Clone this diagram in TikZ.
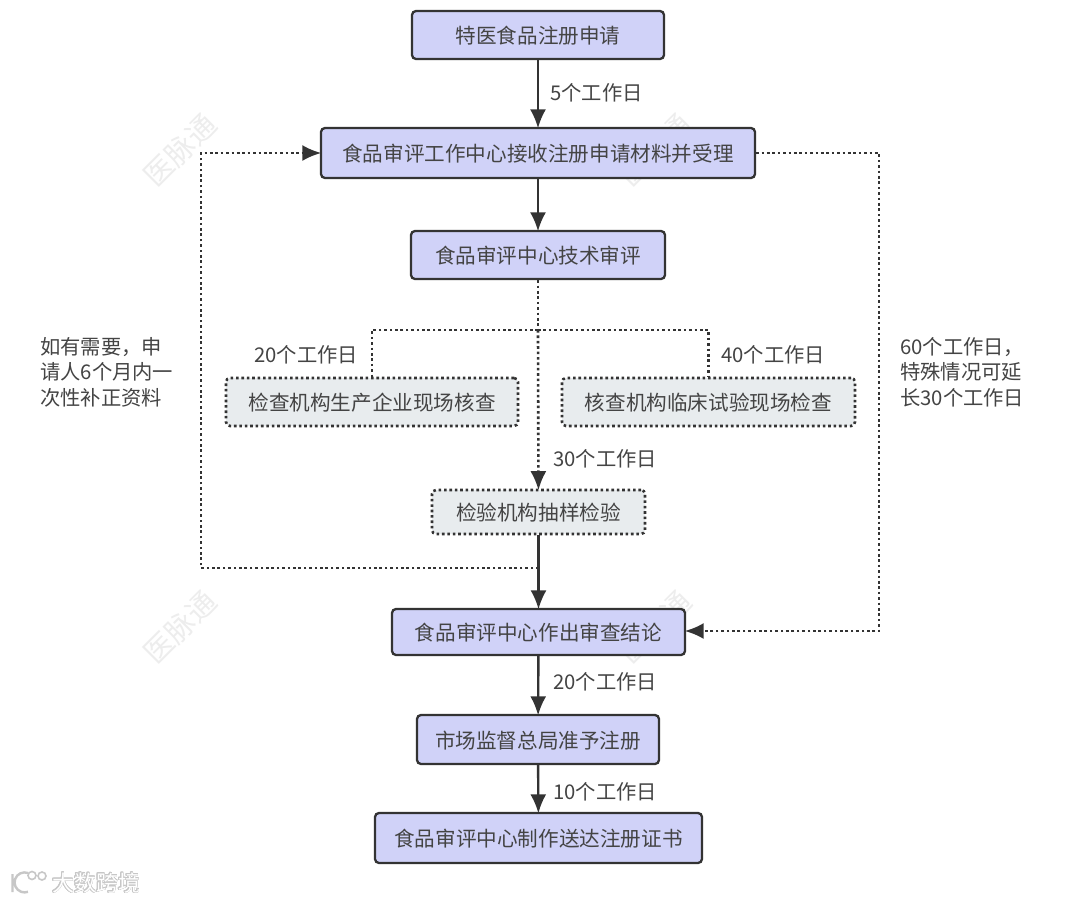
\documentclass[tikz,border=0pt]{standalone}
\usepackage{fontspec}
\setmainfont{Noto Sans CJK SC}
\usepackage{contour}
\usetikzlibrary{arrows.meta}
\contourlength{0.7pt}
\definecolor{boxfill}{HTML}{D0D2F8}
\definecolor{greyfill}{HTML}{E8ECEE}
\definecolor{ink}{HTML}{333333}
\definecolor{txt}{HTML}{444444}
\definecolor{wm}{HTML}{EDEDED}
\tikzset{
  base/.style={rectangle,rounded corners=4pt,inner sep=0pt,text=txt,font=\fontsize{20.6pt}{24pt}\selectfont,line width=2.3pt,draw=ink,text height=17.6pt,text depth=0pt},
  mainbox/.style={base,fill=boxfill},
  checkbox/.style={base,fill=greyfill,line width=2.6pt,dash pattern=on 2.6pt off 2.8pt},
  solidlink/.style={draw=ink,line width=2.4pt},
  dotlink/.style={draw=ink,line width=2.6pt,dash pattern=on 2.6pt off 2.8pt},
  tip/.style={-{Latex[length=19pt,width=16pt]},shorten >=-1.5pt},
  lab/.style={text=txt,font=\fontsize{20.3pt}{25.5pt}\selectfont,inner sep=0pt,align=left},
  wmark/.style={text=wm,font=\fontsize{29pt}{32pt}\selectfont,rotate=45,inner sep=0pt},
}
\begin{document}
\begin{tikzpicture}[x=1pt,y=-1pt]
\useasboundingbox[fill=white] (0,0) rectangle (1080,903);
% watermarks
\node[wmark] (w1) at (180,150) {医脉通};
\node[wmark] (w2) at (655,150) {医脉通};
\node[wmark] (w3) at (180,627) {医脉通};
\node[wmark] (w4) at (655,627) {医脉通};
\node[inner sep=0pt,font=\fontsize{22pt}{24pt}\selectfont,anchor=west] (w5) at (52,883) {\contour{black!22}{\textcolor{white}{大数跨境}}};
\draw[black!22,line width=1.6pt,fill=white] (32,875.5) circle (4pt) (42,876) circle (4pt);
\draw[black!22,line width=2.4pt] (12.5,874) -- (12.5,892) (28,873) arc (70:290:10pt);
% boxes
\node[mainbox,minimum width=252pt,minimum height=48pt] (n1) at (538,35) {特医食品注册申请};
\node[mainbox,minimum width=434pt,minimum height=50pt] (n2) at (538,153) {食品审评工作中心接收注册申请材料并受理};
\node[mainbox,minimum width=254pt,minimum height=48pt] (n3) at (538,255) {食品审评中心技术审评};
\node[checkbox,minimum width=292pt,minimum height=48pt] (n4) at (372,402) {检查机构生产企业现场核查};
\node[checkbox,minimum width=293pt,minimum height=48pt] (n5) at (708.5,402) {核查机构临床试验现场检查};
\node[checkbox,minimum width=213pt,minimum height=44pt] (n6) at (538.5,512) {检验机构抽样检验};
\node[mainbox,minimum width=293pt,minimum height=46pt] (n7) at (538.5,632) {食品审评中心作出审查结论};
\node[mainbox,minimum width=242pt,minimum height=49pt] (n8) at (538,739.5) {市场监督总局准予注册};
\node[mainbox,minimum width=327pt,minimum height=50pt] (n9) at (538.5,838) {食品审评中心制作送达注册证书};
% junctions
\coordinate (j1) at (n3.south |- 0,330);
\coordinate (j2) at (n6.south |- 0,568);
\coordinate (ul) at (201,568);
\coordinate (ur) at (201,153);
\coordinate (rt) at (879,153);
\coordinate (rb) at (879,631);
\coordinate (n2w) at (n2.west |- 0,153);
\coordinate (n2e) at (n2.east |- 0,153);
\coordinate (n7e) at (n7.east |- 0,631);
% connectors
\draw[solidlink,tip] (n1) -- (n2);
\draw[solidlink,tip] (n2) -- (n3);
\draw[dotlink] (n3) -- (j1);
\draw[dotlink,tip] (j1) -- (n6);
\draw[dotlink] (j1) -| (n4);
\draw[dotlink] (j1) -| (n5);
\draw[solidlink,tip] (n6) -- (n7);
\draw[solidlink,tip] (n7) -- (n8);
\draw[solidlink,tip] (n8) -- (n9);
\draw[dotlink,tip] (j2) -- (ul) -- (ur) -- (n2w);
\draw[dotlink,tip] (n2e) -- (rt) -- (rb) -- (n7e);
% labels
\node[lab,anchor=west] (l1) at (550,93) {5个工作日};
\node[lab,anchor=west] (l2) at (254,355) {20个工作日};
\node[lab,anchor=west] (l3) at (721,355) {40个工作日};
\node[lab,anchor=west] (l4) at (553,459) {30个工作日};
\node[lab,anchor=west] (l5) at (553,682) {20个工作日};
\node[lab,anchor=west] (l6) at (553,792) {10个工作日};
\node[lab,anchor=west] (l7) at (40,372) {如有需要，申\\请人6个月内一\\次性补正资料};
\node[lab,anchor=west] (l8) at (900,372) {60个工作日，\\特殊情况可延\\长30个工作日};
\end{tikzpicture}
\end{document}
